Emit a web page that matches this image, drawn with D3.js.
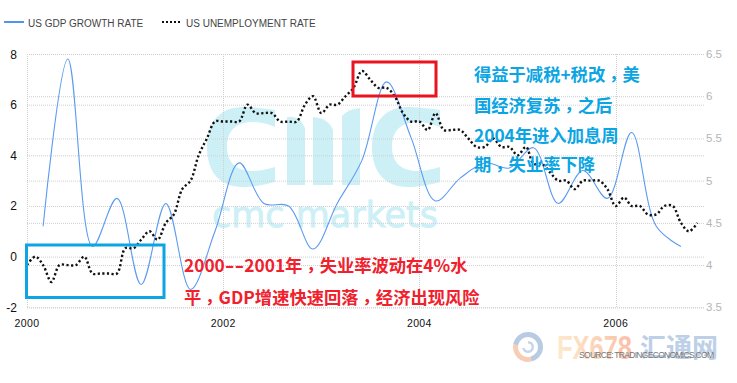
<!DOCTYPE html>
<html><head><meta charset="utf-8">
<script src="https://cdn.jsdelivr.net/npm/d3@7"></script>
<style>html,body{margin:0;padding:0;background:#fff}svg{display:block}text{font-family:"Liberation Sans",Arial,sans-serif}</style>
</head><body><svg id="c" width="737" height="383"></svg>
<script>
const gdpDates=["2000-03","2000-06","2000-09","2000-12","2001-03","2001-06","2001-09","2001-12","2002-03","2002-06","2002-09","2002-12","2003-03","2003-06","2003-09","2003-12","2004-03","2004-06","2004-09","2004-12","2005-03","2005-06","2005-09","2005-12","2006-03","2006-06","2006-09"];
const gdpValues=[1.2,7.8,0.4,2.3,-1.1,2.1,-1.3,1.0,3.7,2.1,2.0,0.3,2.1,3.8,6.9,4.7,2.2,3.1,3.7,3.5,4.3,2.1,3.4,2.3,4.9,1.2,0.4];
const unempValues=[4.0,4.1,4.0,3.8,4.0,4.0,4.0,4.1,3.9,3.9,3.9,3.9,4.2,4.2,4.3,4.4,4.3,4.5,4.6,4.9,5.0,5.3,5.5,5.7,5.7,5.7,5.7,5.9,5.8,5.8,5.8,5.7,5.7,5.7,5.9,6.0,5.8,5.9,5.9,6.0,6.1,6.3,6.2,6.1,6.1,6.0,5.8,5.7,5.7,5.6,5.8,5.6,5.6,5.6,5.5,5.4,5.4,5.5,5.4,5.4,5.3,5.4,5.2,5.2,5.1,5.0,5.0,4.9,5.0,5.0,5.0,4.9,4.7,4.8,4.7,4.7,4.6,4.6,4.7,4.7,4.5,4.4,4.5];
const leftTicks=[8,6,4,2,0,-2];
const rightTicks=[6.5,6,5.5,5,4.5,4,3.5];
const yearTicks=[2000,2002,2004,2006];
const legendLabels=["US GDP GROWTH RATE","US UNEMPLOYMENT RATE"];
const blueNote=["得益于减税+税改，美","国经济复苏，之后","2004年进入加息周","期，失业率下降"];
const redNote=["2000--2001年，失业率波动在4%水","平，GDP增速快速回落，经济出现风险"];

const svg=d3.select("#c");
const parse=d3.timeParse("%Y-%m");
const x=d3.scaleTime().domain([new Date(2000,0,1),new Date(2006,0,1)]).range([27,615.7]);
const yL=d3.scaleLinear().domain([-2,8]).range([307.3,54]);
const yR=d3.scaleLinear().domain([3.5,6.5]).range([307.3,54]);
const xRight=704;

// watermark (CMC)
const wm=svg.append("g").attr("fill","#cdf0f7");
const cShape="M275,110C262,108 250,107 243,107C220,107 207,122 207,147C207,172 220,187 243,187C252,187 265,185 275,182L275,167C265,170 258,171 252,171C236,171 227,162 227,147C227,131 236,122 252,122C260,122 268,124 275,127Z";
wm.append("path").attr("d",cShape);
wm.append("path").attr("d",cShape).attr("transform","translate(165,0)");
wm.append("path").attr("d","M287,185V117Q300,115 305,128V185Z");
wm.append("path").attr("d","M313,185V117Q328,118 333,130V185Z");
wm.append("path").attr("d","M342,185V116Q348,109 360,108V185Z");
wm.append("text").attr("x",212).attr("y",227).attr("font-size",36).attr("style","font-family:'DejaVu Sans'").attr("stroke","#cdf0f7").attr("stroke-width",.8).attr("textLength",226).attr("lengthAdjust","spacingAndGlyphs").text("cmc markets");

// grid
const grid=svg.append("g").attr("stroke","#cfcfcf").attr("stroke-dasharray","1 1").attr("fill","none");
leftTicks.forEach(v=>grid.append("line").attr("x1",27).attr("x2",xRight).attr("y1",yL(v)+.5).attr("y2",yL(v)+.5));
rightTicks.forEach(v=>grid.append("line").attr("x1",27).attr("x2",xRight).attr("y1",yR(v)+.5).attr("y2",yR(v)+.5));
yearTicks.forEach(v=>{const px=Math.round(x(new Date(v,0,1)))+.5;grid.append("line").attr("x1",px).attr("x2",px).attr("y1",54).attr("y2",307)});

// axis text
const tL=svg.append("g").attr("font-size",12).attr("fill","#111");
leftTicks.forEach(v=>tL.append("text").attr("x",17).attr("y",yL(v)+4.5).attr("text-anchor","end").text(v));
const tR=svg.append("g").attr("font-size",11.5).attr("fill","#b5b5b5");
rightTicks.forEach(v=>tR.append("text").attr("x",706).attr("y",yR(v)+4).text(v));
const tX=svg.append("g").attr("font-size",10.5).attr("fill","#111").attr("letter-spacing",.4);
yearTicks.forEach(v=>tX.append("text").attr("x",x(new Date(v,0,1))).attr("y",327).attr("text-anchor","middle").text(v));

// series
const gdp=gdpDates.map((d,i)=>({d:parse(d),v:gdpValues[i]}));
const un=unempValues.map((v,i)=>({d:new Date(2000,i,1),v}));
const lineG=d3.line().x(p=>x(p.d)).y(p=>yL(p.v)).curve(d3.curveCatmullRom.alpha(.5));
const lineU=d3.line().x(p=>x(p.d)).y(p=>yR(p.v)).curve(d3.curveCatmullRom.alpha(.5));
svg.append("path").attr("d",lineG(gdp)).attr("fill","none").attr("stroke","#5b9bf0").attr("stroke-width",1.1);
svg.append("path").attr("d",lineU(un)).attr("fill","none").attr("stroke","#111").attr("stroke-width",2.4).attr("stroke-dasharray","2.2 2.4");

// legend
const lg=svg.append("g");
lg.append("line").attr("x1",4).attr("x2",24).attr("y1",22).attr("y2",22).attr("stroke","#4f94f0").attr("stroke-width",2);
lg.append("text").attr("x",28).attr("y",27).attr("font-size",10).attr("fill","#444").text(legendLabels[0]);
lg.append("line").attr("x1",162).attr("x2",182).attr("y1",22).attr("y2",22).attr("stroke","#111").attr("stroke-width",2).attr("stroke-dasharray","2 2");
lg.append("text").attr("x",186).attr("y",27).attr("font-size",10).attr("fill","#444").text(legendLabels[1]);

// annotation boxes
svg.append("rect").attr("x",353).attr("y",62).attr("width",83).attr("height",34).attr("fill","none").attr("stroke","#e8141f").attr("stroke-width",3);
svg.append("rect").attr("x",26.5).attr("y",245).attr("width",137.5).attr("height",52.5).attr("fill","none").attr("stroke","#0aa5e2").attr("stroke-width",3);

// notes: the full-width comma and the double hyphen take their own glyph styling
const cjk="font-family:'Noto Sans CJK SC'";
function note(s,px,py,color){
  const t=svg.append("text").attr("x",px).attr("y",py).attr("font-size",17.3).attr("font-weight",700).attr("style",cjk).attr("fill",color);
  let offset=0;
  s.split(/(，|--)/).filter(p=>p).forEach(p=>{
    const sp=t.append("tspan").text(p);
    let want=0;
    if(p==="，"){sp.attr("style","font-family:'Noto Sans CJK TC'");want=4;}
    if(p==="--"){sp.attr("style","font-family:'DejaVu Sans'").attr("font-weight",400).attr("font-size",27);want=2;}
    if(want!==offset){sp.attr("dy",want-offset);offset=want;}
  });
}
blueNote.forEach((s,i)=>note(s,474,[81,111.5,142,171][i],"#0aa5e2"));
redNote.forEach((s,i)=>note(s,184,[272,304][i],"#f0202c"));

// FX678 watermark
const fx=svg.append("g");
const defs=svg.append("defs");
const grad=defs.append("linearGradient").attr("id","fxg");
grad.append("stop").attr("offset","0").attr("stop-color","#fdeacb");
grad.append("stop").attr("offset","1").attr("stop-color","#f9bfa8");
const arc=d3.arc().innerRadius(10).outerRadius(15);
const ring=fx.append("g").attr("transform","translate(528,347)");
ring.append("path").attr("d",arc({startAngle:-1.4,endAngle:2.9})).attr("fill","#b9cbe3");
ring.append("path").attr("d",arc({startAngle:2.9,endAngle:4.9})).attr("fill","#f8cdb6");
ring.append("path").attr("d",d3.arc().innerRadius(3.5).outerRadius(6)({startAngle:0,endAngle:4.5})).attr("fill","#c6d5e8");
fx.append("text").attr("x",557).attr("y",359).attr("font-size",33).attr("font-weight",700).attr("fill","url(#fxg)").attr("textLength",75).attr("lengthAdjust","spacingAndGlyphs").text("FX678");
fx.append("text").attr("x",640).attr("y",357).attr("font-size",26).attr("style",cjk).attr("font-weight",700).attr("fill","#bdd0e8").attr("textLength",78).attr("lengthAdjust","spacingAndGlyphs").text("汇通网");
svg.append("text").attr("x",579).attr("y",358).attr("font-size",8.5).attr("fill","#777").attr("textLength",135).text("SOURCE: TRADINGECONOMICS.COM");
</script></body></html>
